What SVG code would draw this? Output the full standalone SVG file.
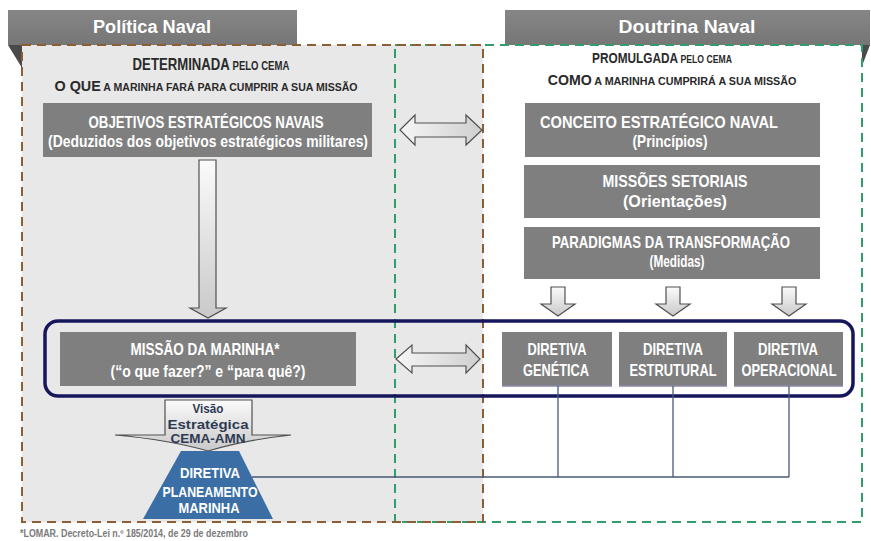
<svg xmlns="http://www.w3.org/2000/svg" width="871" height="541" viewBox="0 0 871 541">
<defs>
<linearGradient id="arrowGrad" x1="0" y1="0" x2="0" y2="1">
<stop offset="0" stop-color="#fbfbfb"/><stop offset="1" stop-color="#c9c9c9"/>
</linearGradient>
<linearGradient id="arrowGradH" x1="0" y1="0" x2="1" y2="0">
<stop offset="0" stop-color="#f6f6f6"/><stop offset="1" stop-color="#cfcfcf"/>
</linearGradient>
<linearGradient id="tabGrad" x1="0" y1="0" x2="0" y2="1">
<stop offset="0" stop-color="#868686"/><stop offset="1" stop-color="#767676"/>
</linearGradient>
</defs>
<style>
text{font-family:"Liberation Sans",Arial,sans-serif;font-weight:bold;}
.tab{fill:url(#tabGrad);}
.fold{fill:#4a4a4a;}
.tabtxt{fill:#ffffff;font-size:18px;text-anchor:middle;}
.hdr{fill:#2a2a2a;text-anchor:middle;}
.box{fill:#7f7f7f;}
.bt{fill:#ffffff;font-size:17px;text-anchor:middle;}
.arrow{fill:url(#arrowGrad);stroke:#505050;stroke-width:1.2;}
.arrowh{fill:url(#arrowGradH);stroke:#505050;stroke-width:1.2;}
.conn{fill:none;stroke:#4a5878;stroke-width:1.3;}
.vt{fill:#2e3a52;font-size:13px;text-anchor:middle;}
.pt{fill:#ffffff;font-size:14px;text-anchor:middle;}
</style>

<g id="panel-politica">
<rect x="22" y="45" width="461" height="477" fill="#e8e8e8"/>
</g>
<g id="tab-politica">
<rect class="tab" x="8" y="10" width="289" height="35"/>
<polygon class="fold" points="8,45 22,45 22,68"/>
<text class="tabtxt" x="152" y="33" textLength="118" lengthAdjust="spacingAndGlyphs">Política Naval</text>
</g>
<g id="tab-doutrina">
<rect class="tab" x="505" y="10" width="365" height="35"/>
<polygon class="fold" points="862,45 870,45 862,66"/>
<text class="tabtxt" x="687" y="33" textLength="137" lengthAdjust="spacingAndGlyphs">Doutrina Naval</text>
</g>
<g id="borders">
<rect x="395" y="45" width="467" height="477" fill="none" stroke="#2f9d6c" stroke-width="2" stroke-dasharray="9,6"/>
<rect x="22" y="45" width="461" height="477" fill="none" stroke="#8b5e34" stroke-width="2" stroke-dasharray="9,6"/>
</g>

<g id="header-left">
<text class="hdr" transform="translate(211,70) scale(0.8,1)" textLength="196" lengthAdjust="spacingAndGlyphs"><tspan font-size="16.5">DETERMINADA</tspan><tspan font-size="12"> PELO CEMA</tspan></text>
<text class="hdr" transform="translate(206,91) scale(0.95,1)" textLength="319" lengthAdjust="spacingAndGlyphs"><tspan font-size="15">O QUE</tspan><tspan font-size="11"> A MARINHA FARÁ PARA CUMPRIR A SUA MISSÃO</tspan></text>
</g>
<g id="header-right">
<text class="hdr" transform="translate(662,63) scale(0.79,1)" textLength="177" lengthAdjust="spacingAndGlyphs"><tspan font-size="15">PROMULGADA</tspan><tspan font-size="11"> PELO CEMA</tspan></text>
<text class="hdr" transform="translate(672,85) scale(0.96,1)" textLength="259" lengthAdjust="spacingAndGlyphs"><tspan font-size="14.5">COMO</tspan><tspan font-size="11"> A MARINHA  CUMPRIRÁ A SUA MISSÃO</tspan></text>
</g>

<g id="objetivos">
<rect class="box" x="43" y="103" width="329" height="54"/>
<text class="bt" x="206" y="128" textLength="235" lengthAdjust="spacingAndGlyphs">OBJETIVOS ESTRATÉGICOS NAVAIS</text>
<text class="bt" x="208" y="147" textLength="320" lengthAdjust="spacingAndGlyphs">(Deduzidos dos objetivos estratégicos militares)</text>
</g>
<g id="conceito">
<rect class="box" x="525" y="103" width="295" height="54"/>
<text class="bt" x="659" y="128" textLength="238" lengthAdjust="spacingAndGlyphs">CONCEITO ESTRATÉGICO NAVAL</text>
<text class="bt" x="670" y="147" textLength="75" lengthAdjust="spacingAndGlyphs">(Princípios)</text>
</g>
<g id="missoes-setoriais">
<rect class="box" x="524" y="165" width="296" height="53"/>
<text class="bt" x="675" y="187" textLength="145" lengthAdjust="spacingAndGlyphs">MISSÕES SETORIAIS</text>
<text class="bt" x="675" y="207" textLength="104" lengthAdjust="spacingAndGlyphs">(Orientações)</text>
</g>
<g id="paradigmas">
<rect class="box" x="524" y="227" width="296" height="52"/>
<text class="bt" x="671" y="248" textLength="238" lengthAdjust="spacingAndGlyphs">PARADIGMAS DA TRANSFORMAÇÃO</text>
<text class="bt" x="677" y="267" textLength="55" lengthAdjust="spacingAndGlyphs">(Medidas)</text>
</g>
<g id="missao-marinha">
<rect class="box" x="60" y="332" width="296" height="54"/>
<text class="bt" x="205" y="355" textLength="149" lengthAdjust="spacingAndGlyphs">MISSÃO DA MARINHA*</text>
<text class="bt" x="208" y="377" textLength="195" lengthAdjust="spacingAndGlyphs">(“o que fazer?” e “para quê?)</text>
</g>
<g id="diretiva-genetica">
<rect class="box" x="502" y="332" width="110" height="54"/>
<line x1="502" y1="386" x2="612" y2="386" stroke="#8a86a8" stroke-width="1.5"/>
<text class="bt" x="557" y="355" textLength="59" lengthAdjust="spacingAndGlyphs">DIRETIVA</text>
<text class="bt" x="556" y="376" textLength="66" lengthAdjust="spacingAndGlyphs">GENÉTICA</text>
</g>
<g id="diretiva-estrutural">
<rect class="box" x="619" y="332" width="108" height="54"/>
<line x1="619" y1="386" x2="727" y2="386" stroke="#8a86a8" stroke-width="1.5"/>
<text class="bt" x="673" y="355" textLength="60" lengthAdjust="spacingAndGlyphs">DIRETIVA</text>
<text class="bt" x="673" y="376" textLength="87" lengthAdjust="spacingAndGlyphs">ESTRUTURAL</text>
</g>
<g id="diretiva-operacional">
<rect class="box" x="734" y="332" width="109" height="54"/>
<line x1="734" y1="386" x2="843" y2="386" stroke="#8a86a8" stroke-width="1.5"/>
<text class="bt" x="788" y="355" textLength="60" lengthAdjust="spacingAndGlyphs">DIRETIVA</text>
<text class="bt" x="789" y="376" textLength="95" lengthAdjust="spacingAndGlyphs">OPERACIONAL</text>
</g>

<g id="grupo-diretivas">
<rect x="45" y="321" width="808" height="75" rx="13" fill="none" stroke="#16165c" stroke-width="3.5"/>
</g>

<g id="visao-estrategica">
<path class="arrow" d="M165,400 L252,400 L252,435 L291,435 Q245,440 208,451 Q170,440 115,435 L165,435 Z"/>
<text class="vt" x="208" y="413" textLength="31" lengthAdjust="spacingAndGlyphs">Visão</text>
<text class="vt" x="208" y="429" textLength="81" lengthAdjust="spacingAndGlyphs">Estratégica</text>
<text class="vt" x="208" y="443" textLength="75" lengthAdjust="spacingAndGlyphs">CEMA-AMN</text>
</g>
<g id="diretiva-planeamento">
<polygon points="181,451 239,451 273,519 143,519" fill="#3b6ea5"/>
<text class="pt" x="210" y="478" textLength="60" lengthAdjust="spacingAndGlyphs">DIRETIVA</text>
<text class="pt" x="210" y="497" textLength="95" lengthAdjust="spacingAndGlyphs">PLANEAMENTO</text>
<text class="pt" x="209" y="513" textLength="61" lengthAdjust="spacingAndGlyphs">MARINHA</text>
</g>

<g id="connectors">
<polygon class="arrow" points="199,160 216,160 216,308 226,308 208,318 190,308 199,308"/>
<polygon class="arrow" points="551,287 565,287 565,304 575,304 558,316 541,304 551,304"/>
<polygon class="arrow" points="666,287 680,287 680,304 690,304 673,316 656,304 666,304"/>
<polygon class="arrow" points="782,287 796,287 796,304 806,304 789,316 772,304 782,304"/>
<polygon class="arrowh" points="400,130 415,115 415,123 466,123 466,115 482,130 466,145 466,137 415,137 415,145"/>
<polygon class="arrowh" points="396,359 412,345 412,353 466,353 466,345 480,359 466,373 466,366 412,366 412,373"/>
<polyline class="conn" points="252,477 789,477"/>
<line class="conn" x1="558" y1="386" x2="558" y2="477"/>
<line class="conn" x1="673" y1="386" x2="673" y2="477"/>
<line class="conn" x1="789" y1="386" x2="789" y2="477"/>
</g>

<g id="footnote">
<text x="20" y="537" font-size="10" fill="#7a7a7a" textLength="228" lengthAdjust="spacingAndGlyphs">*LOMAR. Decreto-Lei n.º 185/2014, de 29 de dezembro</text>
</g>
</svg>
